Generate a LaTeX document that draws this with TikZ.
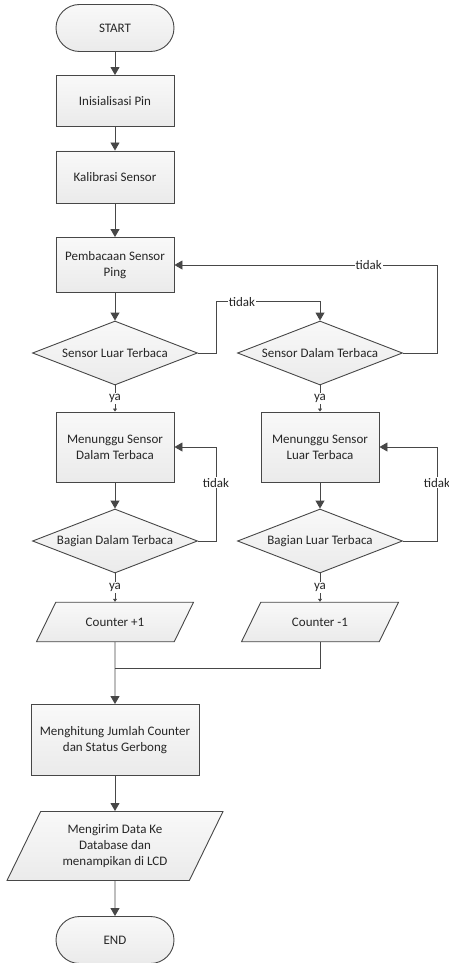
\documentclass[tikz,border=0pt]{standalone}
\usepackage{fontspec}
\setmainfont{Carlito}
\usetikzlibrary{shapes.geometric,arrows.meta,positioning}
\definecolor{garis}{HTML}{474747}
\definecolor{teks}{HTML}{262626}
\tikzset{every node/.style={font=\fontsize{13}{16}\selectfont, text=teks}}
\tikzset{every edge/.style={draw=garis, line width=0.9pt, -{Triangle[length=8pt,width=9pt]}}}
\tikzset{kotak/.style={draw=garis, line width=0.9pt, top color=gray!5, bottom color=gray!16, minimum width=118pt, align=center, inner sep=2pt}}
\tikzset{terminal/.style={kotak, rounded corners=23.5pt, minimum height=47pt}}
\tikzset{pilihan/.style={kotak, diamond, aspect=2.6, inner sep=0pt, minimum width=165pt, minimum height=64pt}}
\tikzset{data/.style={kotak, trapezium, trapezium left angle=64, trapezium right angle=116, trapezium stretches body}}
\tikzset{ket/.style={fill=white, inner sep=1pt}}
\tikzset{kecil/.style={-{Triangle[length=3pt,width=4pt]}}}
\tikzset{balik/.style={draw=garis, line width=0.9pt, -{Triangle[length=8pt,width=9pt]}}}

\begin{document}
\begin{tikzpicture}[node distance = 88pt]
  \useasboundingbox (-115pt,28pt) rectangle (334pt,-935pt);

  \node[terminal] (start) at (0,0) {START};
  \node[kotak, minimum height=51pt] (init) [node distance = 73pt, below of = start] {Inisialisasi Pin};
  \node[kotak, minimum height=52pt] (kal) [node distance = 76pt, below of = init] {Kalibrasi Sensor};
  \node[kotak, minimum height=55pt] (baca) [below of = kal] {Pembacaan Sensor\\Ping};
  \node[pilihan] (luar) [below of = baca] {Sensor Luar Terbaca};
  \node[pilihan] (dalam) [node distance = 205pt, right of = luar] {Sensor Dalam Terbaca};
  \node[kotak, minimum height=70pt] (tungguD) [node distance = 94pt, below of = luar] {Menunggu Sensor\\Dalam Terbaca};
  \node[kotak, minimum height=70pt] (tungguL) [node distance = 94pt, below of = dalam] {Menunggu Sensor\\Luar Terbaca};
  \node[pilihan] (bagD) [node distance = 94pt, below of = tungguD] {Bagian Dalam Terbaca};
  \node[pilihan] (bagL) [node distance = 94pt, below of = tungguL] {Bagian Luar Terbaca};
  \node[data, minimum width=157pt, inner ysep=15.5pt] (plus) [node distance = 81pt, below of = bagD] {Counter +1};
  \node[data, minimum width=157pt, inner ysep=15.5pt] (minus) [node distance = 81pt, below of = bagL] {Counter -1};
  \coordinate (gabung) at ([yshift=-26pt]plus.south);
  \node[kotak, minimum width=168pt, minimum height=71pt] (hitung) [node distance = 118pt, below of = plus] {Menghitung Jumlah Counter\\dan Status Gerbong};
  \node[data, minimum width=216pt, inner ysep=13pt] (kirim) [node distance = 106pt, below of = hitung] {Mengirim Data Ke\\Database dan\\menampikan di LCD};
  \node[terminal] (end) [node distance = 94pt, below of = kirim] {END};

  \path (start) edge (init);
  \path (init) edge (kal);
  \path (kal) edge (baca);
  \path (baca) edge (luar);

  \draw[balik] (luar.east) -- ++(18pt,0) |- node[ket, pos=0.625] {tidak} ([yshift=19pt]dalam.north) -- (dalam.north);
  \draw[balik] (dalam.east) -- ++(34pt,0) |- node[ket, pos=0.63] {tidak} (baca.east);

  \path (luar) edge[kecil] node[ket] {ya} (tungguD);
  \path (dalam) edge[kecil] node[ket] {ya} (tungguL);

  \path (tungguD) edge (bagD);
  \path (tungguL) edge (bagL);

  \draw[balik] (bagD.east) -- ++(18pt,0) |- node[ket, pos=0.31] {tidak} (tungguD.east);
  \draw[balik] (bagL.east) -- ++(34pt,0) |- node[ket, pos=0.31] {tidak} (tungguL.east);

  \path (bagD) edge[kecil] node[ket] {ya} (plus);
  \path (bagL) edge[kecil] node[ket] {ya} (minus);

  \draw[garis, line width=0.9pt] (minus.south) |- (gabung);
  \path (plus.south) edge (hitung);
  \path (hitung) edge (kirim);
  \path (kirim) edge (end);
\end{tikzpicture}
\end{document}
